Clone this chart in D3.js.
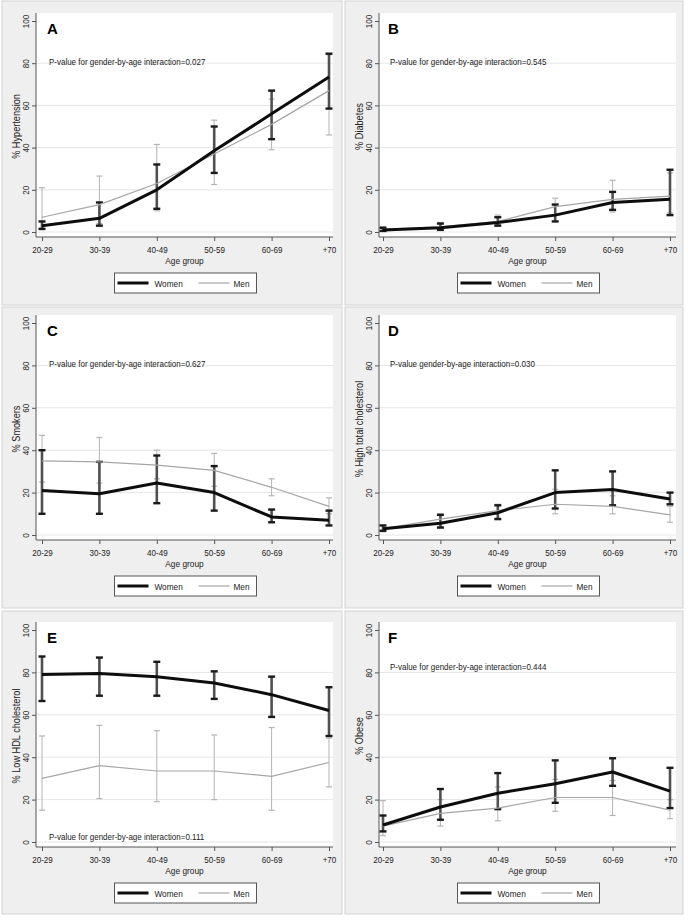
<!DOCTYPE html>
<html><head><meta charset="utf-8">
<script src="https://cdn.jsdelivr.net/npm/d3@7/dist/d3.min.js"></script>
<style>
html,body{margin:0;padding:0;background:#fff;}
svg text{font-family:"Liberation Sans",Arial,Helvetica,sans-serif;fill:#222;}
</style></head>
<body>
<svg id="chart" width="688" height="920"></svg>
<script>
// ---------- data ----------
const ageGroups = ["20-29","30-39","40-49","50-59","60-69","+70"];
const yTicks = [0,20,40,60,80,100];
const gridTicks = [0,20,40,60,80];
const seriesNames = ["Women","Men"];
const xTitle = "Age group";

// A: Hypertension
const hypWomen   = [3, 6.5, 20, 38.5, 56, 73.5];
const hypWomenLo = [1.5, 3, 11, 28, 44, 58.5];
const hypWomenHi = [5, 14, 32, 50, 67, 84.5];
const hypMen     = [7, 13, 23, 37, 51, 67];
const hypMenLo   = [1, 4, 10, 22.5, 39, 46];
const hypMenHi   = [21, 26.5, 41.5, 53, 63, 84];

// B: Diabetes
const diaWomen   = [1, 2, 4.5, 8, 14, 15.5];
const diaWomenLo = [0.5, 1, 3, 5, 10.5, 8];
const diaWomenHi = [2, 4, 7, 13, 19, 29.5];
const diaMen     = [1.3, 2.5, 5, 12, 15.5, 17];
const diaMenLo   = [0.5, 1, 3.5, 8, 9.5, 9];
const diaMenHi   = [2.5, 4.5, 8, 16, 24.5, 28];

// C: Smokers
const smkWomen   = [21, 19.5, 24.5, 20, 8.5, 7];
const smkWomenLo = [10, 10, 15, 11.5, 6, 4.5];
const smkWomenHi = [40, 34.5, 37.5, 32.5, 12, 11.5];
const smkMen     = [35, 34.5, 33, 30.5, 22.5, 13.5];
const smkMenLo   = [25, 24.5, 26.5, 23, 18.5, 10];
const smkMenHi   = [47, 46, 40, 38.5, 26.5, 17.5];

// D: High total cholesterol
const cholWomen   = [3, 5.5, 10.5, 20, 21.5, 17];
const cholWomenLo = [2, 3.5, 7.5, 12.5, 14, 14.5];
const cholWomenHi = [4.5, 9.5, 14, 30.5, 30, 20];
const cholMen     = [3, 7.5, 11.5, 14.5, 13.5, 9.5];
const cholMenLo   = [1.5, 4, 8, 10, 10, 6];
const cholMenHi   = [4.5, 10, 14.5, 21.5, 18.5, 13.5];

// E: Low HDL cholesterol
const hdlWomen   = [79, 79.5, 78, 75, 69.5, 62];
const hdlWomenLo = [66.5, 69, 69, 67.5, 59, 50];
const hdlWomenHi = [87.5, 87, 85, 80.5, 78, 73];
const hdlMen     = [30, 36, 33.5, 33.5, 31, 37.5];
const hdlMenLo   = [15, 20.5, 19, 20, 15, 26];
const hdlMenHi   = [50, 55, 52.5, 50.5, 54, 49];

// F: Obese
const obWomen   = [8, 16.5, 23, 27.5, 33, 24];
const obWomenLo = [5, 10.5, 15.5, 18.5, 26.5, 16];
const obWomenHi = [12.5, 25, 32.5, 38.5, 39.5, 35];
const obMen     = [7.5, 13.5, 16, 21, 21, 15];
const obMenLo   = [3, 7.5, 10, 14.5, 12.5, 11];
const obMenHi   = [19.5, 20, 26, 29.5, 29, 20];

const panelLetters = ["A","B","C","D","E","F"];
const yTitles = ["% Hypertension","% Diabetes","% Smokers","% High total cholesterol","% Low HDL cholesterol","% Obese"];
const pTexts = [
  "P-value for gender-by-age interaction=0.027",
  "P-value for gender-by-age interaction=0.545",
  "P-value for gender-by-age interaction=0.627",
  "P-value gender-by-age interaction=0.030",
  "P-value for gender-by-age interaction=0.111",
  "P-value for gender-by-age interaction=0.444"
];
const pTextAt = [80, 80, 80, 80, 2, 82];

const panels = [
  {w:hypWomen, wl:hypWomenLo, wh:hypWomenHi, m:hypMen, ml:hypMenLo, mh:hypMenHi},
  {w:diaWomen, wl:diaWomenLo, wh:diaWomenHi, m:diaMen, ml:diaMenLo, mh:diaMenHi},
  {w:smkWomen, wl:smkWomenLo, wh:smkWomenHi, m:smkMen, ml:smkMenLo, mh:smkMenHi},
  {w:cholWomen, wl:cholWomenLo, wh:cholWomenHi, m:cholMen, ml:cholMenLo, mh:cholMenHi},
  {w:hdlWomen, wl:hdlWomenLo, wh:hdlWomenHi, m:hdlMen, ml:hdlMenLo, mh:hdlMenHi},
  {w:obWomen, wl:obWomenLo, wh:obWomenHi, m:obMen, ml:obMenLo, mh:obMenHi}
];

// ---------- layout ----------
const colBox = [{x:2, w:340, axis:36, x0:42, x5:329, right:333},
                {x:345, w:338, axis:379, x0:383, x5:670, right:676}];
const rowBox = [{y:1, h:304, y100:21, y0:232},
                {y:307, h:301, y100:323, y0:535},
                {y:611, h:303, y100:630, y0:842}];

const svg = d3.select("#chart");

function condense(sel, f){
  sel.each(function(){
    const L = this.getComputedTextLength();
    d3.select(this).attr("textLength", L*f).attr("lengthAdjust","spacingAndGlyphs");
  });
}

panels.forEach((p, i) => {
  const c = colBox[i % 2], r = rowBox[Math.floor(i / 2)];
  const axisY = r.y0 + 5, top = r.y100 - 8;
  const g = svg.append("g");

  g.append("rect").attr("x", c.x).attr("y", r.y).attr("width", c.w).attr("height", r.h)
    .attr("fill", "#efefef").attr("stroke", "#d2d2d2").attr("stroke-width", 1);
  g.append("rect").attr("x", c.axis).attr("y", top).attr("width", c.right - c.axis).attr("height", axisY - top)
    .attr("fill", "#fff");

  const x = d3.scalePoint().domain(ageGroups).range([c.x0, c.x5]);
  const y = d3.scaleLinear().domain([0, 100]).range([r.y0, r.y100]);

  // grid
  g.append("g").selectAll("line").data(gridTicks).join("line")
    .attr("x1", c.axis).attr("x2", c.right).attr("y1", d => y(d)).attr("y2", d => y(d))
    .attr("stroke", "#e6e6e6").attr("stroke-width", 1);

  // y axis
  const ya = g.append("g").attr("transform", `translate(${c.axis},0)`)
    .call(d3.axisLeft(y).tickValues(yTicks).tickSize(4).tickSizeOuter(0));
  ya.select(".domain").remove();
  ya.selectAll(".tick line").attr("stroke", "#555");
  ya.selectAll(".tick text").attr("x", 0).attr("dy", 0)
    .attr("transform", "translate(-7,0) rotate(-90)")
    .style("text-anchor", "middle").style("font-size", "9.5px");
  g.append("line").attr("x1", c.axis).attr("x2", c.axis).attr("y1", top).attr("y2", axisY)
    .attr("stroke", "#555");

  // x axis
  const xa = g.append("g").attr("transform", `translate(0,${axisY})`)
    .call(d3.axisBottom(x).tickSize(4).tickSizeOuter(0));
  xa.select(".domain").remove();
  xa.selectAll(".tick line").attr("stroke", "#555");
  xa.selectAll(".tick text").attr("y", 9).attr("dy", "0.71em").style("font-size", "9.5px");
  g.append("line").attr("x1", c.axis).attr("x2", c.right).attr("y1", axisY).attr("y2", axisY)
    .attr("stroke", "#555");
  condense(xa.selectAll(".tick text"), 0.85);
  condense(ya.selectAll(".tick text"), 0.85);

  // axis titles
  const xt = g.append("text").attr("x", (c.axis + c.right) / 2).attr("y", axisY + 27)
    .attr("text-anchor", "middle").style("font-size", "9.8px").text(xTitle);
  condense(xt, 0.85);
  const yt = g.append("text")
    .attr("transform", `translate(${c.axis - 16},${(r.y0 + r.y100) / 2}) rotate(-90)`)
    .attr("text-anchor", "middle").style("font-size", "10.2px").text(yTitles[i]);
  condense(yt, 0.9);

  // letter & p-value
  g.append("text").attr("x", c.x0 + 5).attr("y", r.y100 + 13)
    .style("font-size", "15px").style("font-weight", "bold").style("fill", "#000")
    .text(panelLetters[i]);
  const pt = g.append("text").attr("x", c.x0 + 7).attr("y", y(pTextAt[i]) + 2)
    .style("font-size", "9.5px").text(pTexts[i]);
  condense(pt, 0.84);

  const line = d3.line().x((d, k) => x(ageGroups[k])).y(d => y(d));

  function errbars(vals, lo, hi, color, w, capColor, capW, half) {
    const eb = g.append("g");
    eb.selectAll("line.bar").data(vals).join("line").attr("class", "bar")
      .attr("x1", (d, k) => x(ageGroups[k])).attr("x2", (d, k) => x(ageGroups[k]))
      .attr("y1", (d, k) => y(lo[k])).attr("y2", (d, k) => y(hi[k]))
      .attr("stroke", color).attr("stroke-width", w);
    [lo, hi].forEach(arr => {
      eb.append("g").selectAll("line").data(arr).join("line")
        .attr("x1", (d, k) => x(ageGroups[k]) - half).attr("x2", (d, k) => x(ageGroups[k]) + half)
        .attr("y1", d => y(d)).attr("y2", d => y(d))
        .attr("stroke", capColor).attr("stroke-width", capW);
    });
  }

  errbars(p.m, p.ml, p.mh, "#b4b4b4", 1, "#b4b4b4", 1.2, 3);
  errbars(p.w, p.wl, p.wh, "#505050", 2.6, "#1a1a1a", 2.4, 3.5);
  g.append("path").datum(p.m).attr("d", line).attr("fill", "none")
    .attr("stroke", "#a6a6a6").attr("stroke-width", 1.2);
  g.append("path").datum(p.w).attr("d", line).attr("fill", "none")
    .attr("stroke", "#0d0d0d").attr("stroke-width", 3).attr("stroke-linejoin", "round");

  // legend
  const lw = 142, lh = 20;
  const lx = (c.axis + c.right) / 2 + 1 - lw / 2, ly = axisY + 36;
  const lg = g.append("g").attr("transform", `translate(${lx},${ly})`);
  lg.append("rect").attr("width", lw).attr("height", lh).attr("fill", "#fff")
    .attr("stroke", "#555").attr("stroke-width", 1);
  lg.append("line").attr("x1", 3).attr("x2", 34).attr("y1", lh / 2).attr("y2", lh / 2)
    .attr("stroke", "#0d0d0d").attr("stroke-width", 3);
  const t1 = lg.append("text").attr("x", 40).attr("y", lh / 2 + 3.5).style("font-size", "9.8px").text(seriesNames[0]);
  lg.append("line").attr("x1", 84).attr("x2", 115).attr("y1", lh / 2).attr("y2", lh / 2)
    .attr("stroke", "#a6a6a6").attr("stroke-width", 1.2);
  const t2 = lg.append("text").attr("x", 119).attr("y", lh / 2 + 3.5).style("font-size", "9.8px").text(seriesNames[1]);
  condense(t1, 0.84); condense(t2, 0.84);
});
</script>
</body></html>
